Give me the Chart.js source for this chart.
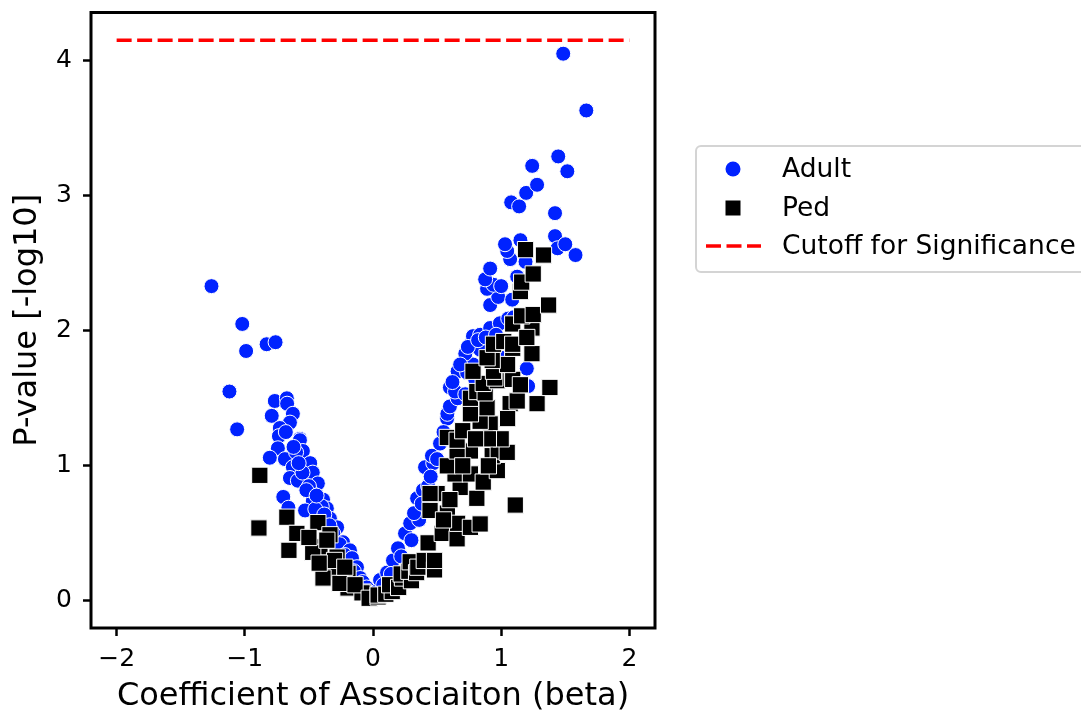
<!DOCTYPE html>
<html>
<head>
<meta charset="utf-8">
<script src="https://cdn.jsdelivr.net/npm/chart.js@4.4.1/dist/chart.umd.min.js"></script>
<style>
html,body{margin:0;padding:0;background:#fff;}
#wrap{width:1081px;height:716px;position:relative;}
</style>
</head>
<body>
<div id="wrap"><canvas id="c" width="1081" height="716"></canvas></div>
<script>
// ---- data ----
const adultBeta = [
 -1.26,-1.12,-1.02,-0.99,-1.06,-0.83,-0.76,
 -0.766,-0.672,-0.67,-0.625,-0.79,-0.648,-0.727,-0.734,-0.57,-0.57,-0.547,-0.742,-0.805,-0.687,-0.49,-0.625,-0.648,-0.47,-0.586,-0.43,-0.477,-0.70,-0.47,-0.39,-0.36,-0.53,-0.66,-0.336,-0.43,-0.28,-0.31,-0.234,-0.26,-0.18,-0.22,-0.164,-0.125,-0.15,-0.10,-0.08,-0.05,-0.03,-0.01,
 -0.55,-0.60,-0.50,-0.40,-0.45,-0.52,-0.44,-0.38,-0.34,-0.58,-0.62,-0.68,
 0.01,0.03,0.055,0.08,0.11,0.156,0.14,0.195,0.22,0.25,0.29,0.30,0.344,0.39,0.36,0.406,0.47,0.46,0.43,0.523,0.586,0.578,0.58,0.6,0.6,0.66,0.64,0.72,0.66,0.734,0.78,0.797,0.72,0.76,0.836,0.78,0.836,0.914,0.99,1.055,0.914,0.977,1.086,0.89,0.94,1.0,0.875,1.125,0.914,1.07,1.19,1.047,1.03,1.15,1.42,1.44,1.5,1.58,1.42,1.078,1.14,1.195,1.28,1.242,1.445,1.516,1.484,1.664,1.2,1.21,
 0.7,0.8,0.5,0.9,1.0,0.62,0.85,1.1,
 0.32,0.38,0.45,0.5,0.55,0.62,0.68,0.74,0.82,0.88,0.96
];
const adultP = [
 2.33,1.55,2.05,1.85,1.27,1.90,1.915,
 1.48,1.50,1.46,1.385,1.37,1.32,1.28,1.22,1.20,1.19,1.11,1.13,1.06,1.05,1.02,0.99,0.91,0.95,0.89,0.87,0.80,0.77,0.74,0.75,0.685,0.67,0.69,0.61,0.62,0.545,0.50,0.435,0.42,0.375,0.34,0.317,0.25,0.22,0.17,0.14,0.10,0.06,0.03,
 0.95,1.10,0.85,0.70,0.68,0.82,0.78,0.64,0.56,1.02,1.14,1.25,
 0.02,0.07,0.155,0.12,0.21,0.30,0.20,0.39,0.33,0.50,0.575,0.45,0.76,0.82,0.60,0.99,1.02,1.075,0.85,1.165,1.20,1.35,1.385,1.44,1.58,1.50,1.55,1.53,1.70,1.69,1.75,1.64,1.83,1.90,1.86,1.96,1.97,2.02,2.055,2.09,2.19,2.25,2.23,2.31,2.34,2.33,2.38,2.40,2.46,2.53,2.51,2.59,2.64,2.67,2.70,2.61,2.64,2.56,2.87,2.95,2.92,3.02,3.08,3.22,3.29,3.18,4.05,3.63,1.72,1.59,
 1.25,1.45,0.80,1.60,1.80,1.00,1.20,2.10,
 0.65,0.72,0.92,1.05,1.25,1.62,1.75,1.88,1.93,1.95,1.97
];
const pedBeta = [
 -0.883,-0.89,-0.672,-0.594,-0.656,-0.43,-0.414,-0.47,-0.336,-0.336,-0.195,-0.195,-0.078,-0.39,-0.258,-0.28,-0.36,-0.5,-0.086,-0.14,-0.30,-0.22,-0.42,-0.03,
 0.04,0.04,0.1,0.15,0.13,0.2,0.23,0.22,0.3,0.28,0.29,0.34,0.35,0.4,0.48,0.48,0.43,0.54,0.656,0.58,0.66,0.76,0.445,0.5,0.445,0.68,0.81,0.836,0.64,0.76,0.86,0.58,0.97,0.76,0.93,0.977,1.047,0.656,0.58,0.656,0.70,0.914,0.836,0.76,0.89,0.76,0.81,0.875,1.07,1.28,1.125,1.38,0.86,0.97,1.09,0.95,0.78,0.94,1.05,0.93,0.89,1.24,1.09,0.94,1.02,1.09,1.24,1.09,1.16,1.25,1.37,1.15,1.16,1.25,1.19,1.33,1.11,
 1.0,0.9,1.05,1.15,1.2,0.7,0.6,0.55,0.9,0.8
];
const pedP = [
 0.93,0.54,0.62,0.50,0.375,0.58,0.40,0.36,0.23,0.49,0.205,0.096,0.066,0.17,0.13,0.325,0.45,0.47,0.06,0.12,0.30,0.25,0.28,0.02,
 0.03,0.044,0.05,0.07,0.12,0.10,0.17,0.20,0.15,0.22,0.29,0.21,0.25,0.30,0.23,0.30,0.43,0.50,0.46,0.65,0.575,0.545,0.67,0.795,0.795,0.84,0.76,0.57,0.94,0.94,0.88,1.00,0.965,1.11,1.075,1.11,1.10,1.11,1.21,1.19,1.26,1.31,1.33,1.385,1.43,1.50,1.55,1.54,1.46,1.46,1.48,1.58,1.61,1.63,1.64,1.65,1.70,1.70,1.75,1.78,1.80,1.83,1.87,1.90,1.92,1.90,2.02,2.05,2.11,2.12,2.19,2.29,2.36,2.42,2.60,2.56,0.71,
 1.20,1.00,1.35,1.60,1.95,1.00,0.75,0.60,1.20,1.20
];
const cutoffBeta = [-2, 2];
const cutoffP = [4.15, 4.15];
const xTicks = [-2, -1, 0, 1, 2];
const yTicks = [0, 1, 2, 3, 4];
const seriesLabels = ['Adult', 'Ped', 'Cutoff for Significance'];

// ---- styles ----
const ADULT_COLOR = '#0022ff';
const FONT = 'DejaVu Sans';

const toPts = (xs, ys) => xs.map((x, i) => ({x: x, y: ys[i]}));

const framePlugin = {
  id: 'frame',
  afterDraw(chart) {
    const {ctx, chartArea: a} = chart;
    ctx.save();
    ctx.strokeStyle = '#000';
    ctx.lineWidth = 3;
    ctx.strokeRect(a.left, a.top, a.right - a.left, a.bottom - a.top);
    ctx.restore();
  }
};

const legendPlugin = {
  id: 'boxLegend',
  afterDraw(chart) {
    const ctx = chart.ctx;
    const ds = chart.data.datasets;
    ctx.save();
    const bx = 696, by = 146, bw = 420, bh = 126, r = 5;
    ctx.beginPath();
    ctx.moveTo(bx + r, by);
    ctx.lineTo(bx + bw - r, by);
    ctx.arcTo(bx + bw, by, bx + bw, by + r, r);
    ctx.lineTo(bx + bw, by + bh - r);
    ctx.arcTo(bx + bw, by + bh, bx + bw - r, by + bh, r);
    ctx.lineTo(bx + r, by + bh);
    ctx.arcTo(bx, by + bh, bx, by + bh - r, r);
    ctx.lineTo(bx, by + r);
    ctx.arcTo(bx, by, bx + r, by, r);
    ctx.closePath();
    ctx.fillStyle = 'rgba(255,255,255,0.8)';
    ctx.fill();
    ctx.strokeStyle = '#d4d4d4';
    ctx.lineWidth = 2;
    ctx.stroke();
    const mx = 733;
    const rows = [169, 208, 246];
    ctx.fillStyle = ADULT_COLOR;
    ctx.beginPath();
    ctx.arc(mx, rows[0], 7.5, 0, Math.PI * 2);
    ctx.fill();
    ctx.fillStyle = '#000';
    ctx.fillRect(mx - 7.5, rows[1] - 7.5, 15, 15);
    ctx.strokeStyle = '#ff0000';
    ctx.lineWidth = 3.5;
    ctx.setLineDash([15, 5.5]);
    ctx.beginPath();
    ctx.moveTo(706, rows[2]);
    ctx.lineTo(761, rows[2]);
    ctx.stroke();
    ctx.setLineDash([]);
    ctx.fillStyle = '#000';
    ctx.font = '26.5px "' + FONT + '"';
    ctx.textBaseline = 'middle';
    ctx.textAlign = 'left';
    for (let i = 0; i < 3; i++) ctx.fillText(ds[i].label, 782, rows[i] + 1);
    ctx.restore();
  }
};

const fmt = v => (v < 0 ? '\u2212' + Math.abs(v) : String(v));

new Chart(document.getElementById('c'), {
  type: 'scatter',
  data: {
    datasets: [
      {
        label: seriesLabels[0],
        data: toPts(adultBeta, adultP),
        pointStyle: 'circle',
        pointRadius: 7.5,
        pointHoverRadius: 7.5,
        backgroundColor: ADULT_COLOR,
        borderColor: '#ffffff',
        borderWidth: 1,
        order: 3
      },
      {
        label: seriesLabels[1],
        data: toPts(pedBeta, pedP),
        pointStyle: 'rect',
        pointRadius: 11.5,
        pointHoverRadius: 11.5,
        backgroundColor: '#000000',
        borderColor: '#ffffff',
        borderWidth: 1,
        order: 2
      },
      {
        label: seriesLabels[2],
        type: 'line',
        data: toPts(cutoffBeta, cutoffP),
        showLine: true,
        borderColor: '#ff0000',
        borderWidth: 3.5,
        borderDash: [15, 5.5],
        pointRadius: 0,
        fill: false,
        order: 1
      }
    ]
  },
  options: {
    responsive: false,
    animation: false,
    events: [],
    layout: {padding: {left: 0, top: 8, right: 426, bottom: 0}},
    plugins: {legend: {display: false}, tooltip: {enabled: false}},
    scales: {
      x: {
        type: 'linear',
        min: -2.2,
        max: 2.2,
        afterBuildTicks: s => { s.ticks = xTicks.map(v => ({value: v})); },
        afterFit: s => { s.height = 88; s.paddingLeft = 0; s.paddingRight = 0; },
        ticks: {
          callback: v => fmt(v),
          color: '#000',
          font: {family: FONT, size: 25},
          padding: 8,
          maxRotation: 0
        },
        grid: {drawOnChartArea: false, drawTicks: true, tickLength: 8, tickWidth: 2.5, tickColor: '#000'},
        border: {display: false},
        title: {
          display: true,
          text: 'Coefficient of Associaiton (beta)',
          color: '#000',
          font: {family: FONT, size: 32},
          padding: {top: 0, bottom: 0}
        }
      },
      y: {
        type: 'linear',
        min: -0.2,
        max: 4.355,
        afterBuildTicks: s => { s.ticks = yTicks.map(v => ({value: v})); },
        afterFit: s => { s.width = 91; s.paddingTop = 0; s.paddingBottom = 0; },
        ticks: {
          callback: v => fmt(v),
          color: '#000',
          font: {family: FONT, size: 25},
          padding: 11
        },
        grid: {drawOnChartArea: false, drawTicks: true, tickLength: 8, tickWidth: 2.5, tickColor: '#000'},
        border: {display: false},
        title: {
          display: true,
          text: 'P-value [-log10]',
          color: '#000',
          font: {family: FONT, size: 32},
          padding: {top: 8, bottom: 0}
        }
      }
    }
  },
  plugins: [framePlugin, legendPlugin]
});
</script>
</body>
</html>
